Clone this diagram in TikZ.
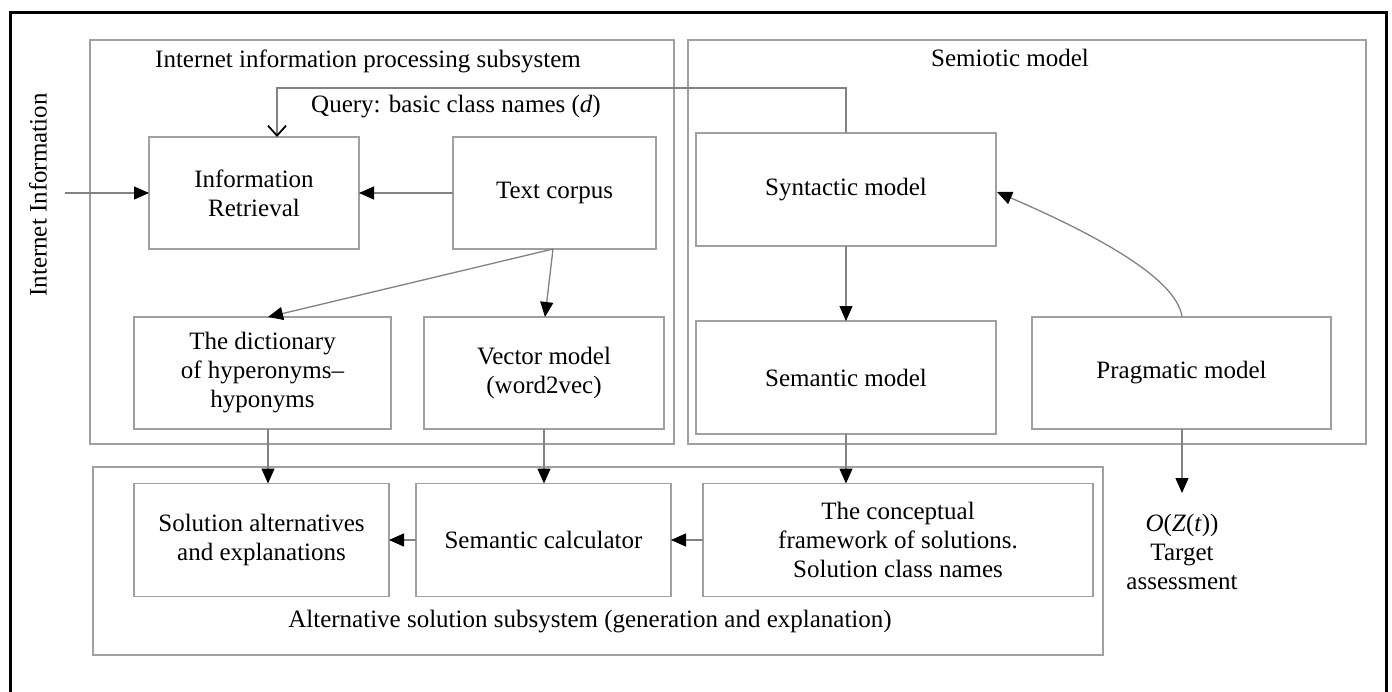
\documentclass[tikz,border=0pt]{standalone}
\usepackage{fontspec}
\setmainfont{Liberation Serif}
\usetikzlibrary{arrows.meta}
\definecolor{boxgray}{RGB}{160,160,160}
\definecolor{linegray}{RGB}{130,130,130}
\begin{document}
\begin{tikzpicture}[x=1pt,y=-1pt,
  box/.style={draw=boxgray, line width=1.6pt, rectangle, inner sep=0pt, outer sep=0pt, align=center, font=\fontsize{25}{29}\selectfont},
  grp/.style={draw=boxgray, line width=1.8pt, rectangle, inner sep=0pt, outer sep=0pt},
  lbl/.style={font=\fontsize{25}{29}\selectfont, align=center, inner sep=0pt},
  arr/.style={draw=linegray, line width=1.3pt, -{Triangle[length=15pt,width=13pt,color=black]}},
  qarr/.style={draw=linegray, line width=1.3pt, -{Straight Barb[length=10pt,width=18pt,color=black,line width=1.8pt]}},
]
\useasboundingbox (0,0) rectangle (1392,691);
\fill[white] (0,0) rectangle (1392,691);
% outer frame (open at the bottom edge of the picture)
\draw[line width=3pt] (10,700) -- (10,12) -- (1386,12) -- (1386,700);

% group boxes
\node[grp, minimum width=584pt, minimum height=404pt] (g1) at (382,242) {};
\node[grp, minimum width=678pt, minimum height=404pt] (g2) at (1027,242) {};
\node[grp, minimum width=1010pt, minimum height=188pt] (g3) at (598,561) {};

\node[lbl] (t1) at (368,61) {Internet information processing subsystem};
\node[lbl] (t2) at (1010,58) {Semiotic model};
\node[lbl] (t3) at (590,622) {Alternative solution subsystem (generation and explanation)};

% boxes
\node[box, minimum width=210pt, minimum height=112pt] (ir) at (254,193) {Information\\Retrieval};
\node[box, minimum width=203pt, minimum height=112pt] (tc) at (554.5,193) {\raisebox{5pt}{Text corpus}};
\node[box, minimum width=257pt, minimum height=112pt] (dict) at (262.5,373) {The dictionary\\of hyperonyms–\\hyponyms};
\node[box, minimum width=240pt, minimum height=112pt] (vec) at (544,373) {Vector model\\(word2vec)};
\node[box, minimum width=300pt, minimum height=113pt] (syn) at (846,189.5) {Syntactic model};
\node[box, minimum width=300pt, minimum height=113pt] (sem) at (846,377.5) {\raisebox{-4pt}{Semantic model}};
\node[box, minimum width=299pt, minimum height=112pt] (prag) at (1181.5,373) {Pragmatic model};
\node[box, minimum width=255pt, minimum height=113pt] (sol) at (261.5,540) {Solution alternatives\\and explanations};
\node[box, minimum width=255pt, minimum height=113pt] (calc) at (543.5,540) {Semantic calculator};
\node[box, minimum width=390pt, minimum height=113pt] (conc) at (898,540) {The conceptual\\framework of solutions.\\Solution class names};

% left input
\node[lbl, rotate=90] (ii) at (38,195) {Internet Information};
\coordinate (inp) at (65,193);
\draw[arr] (inp) -- (ir.west);

% query loop
\coordinate (q1) at (846,88);
\coordinate (q2) at (277,88);
\draw[qarr] (syn.north) -- (q1) -- (q2) -- (q2 |- ir.north);
\node[lbl] (ql) at (456,107) {Query: basic class names (\textit{d})};

\draw[arr] (tc.west) -- (ir.east);
\coordinate (tcb) at (553,249);
\draw[arr] (tcb) -- (268,317);
\draw[arr] (tcb) -- (545,317);

\draw[arr] (syn.south) -- (sem.north);
\draw[arr] (1182,317) .. controls (1178,285) and (1120,245) .. (997,192);

\draw[arr] (dict.south -| 268,0) -- (sol.north -| 268,0);
\draw[arr] (vec.south -| 544,0) -- (calc.north -| 544,0);
\draw[arr] (sem.south) -- (sem.south |- conc.north);
\draw[arr] (conc.west) -- (calc.east);
\draw[arr] (calc.west) -- (sol.east);

% target
\node[lbl] (tgt) at (1182,552) {\textit{O}(\textit{Z}(\textit{t}))\\Target\\assessment};
\coordinate (tg) at (1182,493);
\draw[arr] (prag.south -| tg) -- (tg);
\end{tikzpicture}
\end{document}
